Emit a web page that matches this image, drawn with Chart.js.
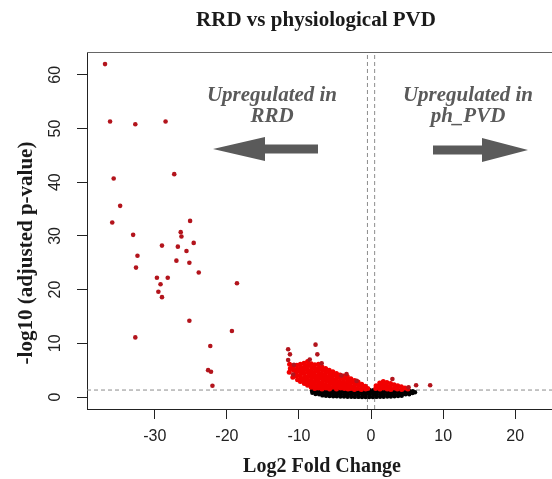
<!DOCTYPE html>
<html>
<head>
<meta charset="utf-8">
<script src="https://cdn.jsdelivr.net/npm/chart.js@4"></script>
<style>
html,body{margin:0;padding:0;background:#fff;overflow:hidden}
#wrap{width:552px;height:479px;position:relative}
</style>
</head>
<body>
<div id="wrap"><canvas id="c"></canvas></div>
<script>
// axis ticks
const xTicks = [-30, -20, -10, 0, 10, 20]
const yTicks = [0, 10, 20, 30, 40, 50, 60]
// cut-offs: |log2FC| 0.5 and padj 0.05
const fcCut = 0.5
const pCut = 1.3

// significant genes, isolated points [log2FC, -log10 padj]
const farRed = [
  [-36.9, 62.0], [-36.2, 51.3], [-32.7, 50.8], [-28.5, 51.3], [-35.7, 40.7], [-27.3, 41.5],
  [-34.8, 35.6], [-35.9, 32.5], [-25.1, 32.8], [-33.0, 30.2], [-26.4, 30.7], [-26.3, 29.9],
  [-29.0, 28.2], [-26.8, 28.0], [-24.6, 28.7], [-32.4, 26.3], [-25.6, 27.2], [-32.6, 24.1],
  [-27.0, 25.4], [-25.2, 25.0], [-23.9, 23.2], [-29.7, 22.2], [-28.2, 22.2], [-29.2, 21.0],
  [-18.6, 21.2], [-29.5, 19.6], [-29.0, 18.6], [-25.2, 14.2], [-19.3, 12.3], [-32.7, 11.1],
  [-22.3, 9.5], [-22.6, 5.0], [-22.2, 4.7], [-22.0, 2.1],
  [-11.5, 8.9], [-11.25, 7.95], [-11.5, 6.9], [-7.7, 9.75], [-7.45, 7.95], [-8.5, 7.0],
  [-6.85, 6.3], [-10.8, 4.2], [-10.7, 6.0], [-4.1, 4.0], [-3.4, 4.3], [-2.0, 3.0],
  [2.96, 3.35], [5.2, 1.8], [6.25, 2.2], [8.2, 2.2]
]

// significant genes, dense part near zero
const redCloud = [
  [-11.3, 6.1], [-11.2, 5.3], [-11.35, 4.6],
  [-10.8, 5.7], [-10.75, 5.0], [-10.85, 3.7],
  [-10.3, 5.9], [-10.25, 5.2], [-10.35, 4.6], [-10.3, 3.9], [-10.2, 3.2],
  [-9.8, 6.1], [-9.75, 5.4], [-9.85, 4.8], [-9.8, 4.1], [-9.7, 3.5], [-9.8, 2.9],
  [-9.3, 6.3], [-9.25, 5.6], [-9.35, 5.0], [-9.3, 4.4], [-9.2, 3.7], [-9.3, 3.1], [-9.25, 2.5],
  [-8.8, 6.6], [-8.75, 5.9], [-8.85, 5.2], [-8.8, 4.6], [-8.7, 3.9], [-8.8, 3.3], [-8.75, 2.7], [-8.8, 2.2],
  [-8.3, 6.2], [-8.25, 5.5], [-8.35, 4.9], [-8.3, 4.3], [-8.2, 3.6], [-8.3, 3.0], [-8.25, 2.4], [-8.3, 1.8],
  [-7.8, 6.0], [-7.75, 5.3], [-7.85, 4.6], [-7.8, 4.0], [-7.7, 3.4], [-7.8, 2.8], [-7.75, 2.2], [-7.8, 1.6],
  [-7.3, 6.1], [-7.25, 5.4], [-7.35, 4.8], [-7.3, 4.1], [-7.2, 3.5], [-7.3, 2.9], [-7.25, 2.3], [-7.3, 1.7],
  [-6.8, 5.6], [-6.75, 5.0], [-6.85, 4.4], [-6.8, 3.8], [-6.7, 3.2], [-6.8, 2.6], [-6.75, 2.0], [-6.8, 1.5],
  [-6.3, 5.3], [-6.25, 4.7], [-6.35, 4.1], [-6.3, 3.5], [-6.2, 2.9], [-6.3, 2.3], [-6.25, 1.7],
  [-5.8, 5.0], [-5.75, 4.4], [-5.85, 3.8], [-5.8, 3.2], [-5.7, 2.6], [-5.8, 2.0], [-5.75, 1.5],
  [-5.3, 4.7], [-5.25, 4.1], [-5.35, 3.5], [-5.3, 2.9], [-5.2, 2.3], [-5.3, 1.8],
  [-4.8, 4.4], [-4.75, 3.8], [-4.85, 3.2], [-4.8, 2.6], [-4.7, 2.0], [-4.8, 1.5],
  [-4.3, 4.1], [-4.25, 3.5], [-4.35, 2.9], [-4.3, 2.3], [-4.2, 1.7],
  [-3.8, 3.9], [-3.75, 3.4], [-3.85, 2.8], [-3.8, 2.2], [-3.7, 1.6],
  [-3.3, 3.8], [-3.25, 3.2], [-3.35, 2.6], [-3.3, 2.0], [-3.2, 1.5],
  [-2.8, 3.4], [-2.75, 2.8], [-2.85, 2.2], [-2.8, 1.6],
  [-2.3, 3.1], [-2.25, 2.5], [-2.35, 1.9], [-2.3, 1.4],
  [-1.8, 2.8], [-1.75, 2.2], [-1.85, 1.6],
  [-1.3, 2.4], [-1.25, 1.9], [-1.35, 1.4],
  [-0.8, 2.0], [-0.75, 1.5], [-0.45, 1.6],
  [0.7, 2.1], [0.65, 1.6],
  [1.2, 2.6], [1.15, 2.0], [1.25, 1.5],
  [1.7, 2.9], [1.65, 2.3], [1.75, 1.7],
  [2.2, 2.7], [2.15, 2.1], [2.25, 1.5],
  [2.7, 2.5], [2.65, 1.9], [2.75, 1.4],
  [3.2, 2.3], [3.25, 1.7],
  [3.7, 2.1], [3.65, 1.5],
  [4.2, 1.9], [4.25, 1.4],
  [4.7, 1.7], [5.1, 1.5]
]

// not significant
const blackCloud = [
  [-8.2, 1.2], [-8.15, 0.8],
  [-7.7, 1.25], [-7.75, 0.9], [-7.7, 0.55],
  [-7.2, 1.2], [-7.25, 0.85], [-7.2, 0.5],
  [-6.7, 1.25], [-6.75, 0.9], [-6.7, 0.55], [-6.75, 0.3],
  [-6.2, 1.2], [-6.25, 0.85], [-6.2, 0.5], [-6.25, 0.25],
  [-5.7, 1.25], [-5.75, 0.9], [-5.7, 0.55], [-5.75, 0.2],
  [-5.2, 1.2], [-5.25, 0.85], [-5.2, 0.5], [-5.25, 0.15],
  [-4.7, 1.25], [-4.75, 0.9], [-4.7, 0.55], [-4.75, 0.15],
  [-4.2, 1.2], [-4.25, 0.85], [-4.2, 0.5], [-4.25, 0.1],
  [-3.7, 1.25], [-3.75, 0.9], [-3.7, 0.5], [-3.75, 0.08],
  [-3.2, 1.2], [-3.25, 0.85], [-3.2, 0.45], [-3.25, 0.05],
  [-2.7, 1.25], [-2.75, 0.9], [-2.7, 0.5], [-2.75, 0.05],
  [-2.2, 1.2], [-2.25, 0.85], [-2.2, 0.45], [-2.25, 0.02],
  [-1.7, 1.25], [-1.75, 0.9], [-1.7, 0.5], [-1.75, 0.02],
  [-1.2, 1.2], [-1.25, 0.85], [-1.2, 0.45], [-1.25, 0.0],
  [-0.7, 1.25], [-0.75, 0.9], [-0.7, 0.5], [-0.75, 0.0],
  [-0.2, 1.3], [-0.25, 0.9], [-0.2, 0.5], [-0.25, 0.0],
  [0.3, 1.25], [0.25, 0.85], [0.3, 0.45], [0.25, 0.0],
  [0.8, 1.2], [0.75, 0.85], [0.8, 0.45], [0.75, 0.02],
  [1.3, 1.25], [1.25, 0.9], [1.3, 0.5], [1.25, 0.05],
  [1.8, 1.2], [1.75, 0.85], [1.8, 0.45], [1.75, 0.05],
  [2.3, 1.25], [2.25, 0.9], [2.3, 0.5], [2.25, 0.08],
  [2.8, 1.2], [2.75, 0.85], [2.8, 0.45], [2.75, 0.1],
  [3.3, 1.25], [3.25, 0.9], [3.3, 0.5], [3.25, 0.15],
  [3.8, 1.2], [3.75, 0.85], [3.8, 0.5], [3.75, 0.2],
  [4.3, 1.2], [4.25, 0.85], [4.3, 0.45], [4.25, 0.25],
  [4.8, 1.2], [4.75, 0.85], [4.8, 0.5],
  [5.3, 1.15], [5.25, 0.8], [5.3, 0.5],
  [5.8, 1.1], [5.75, 0.75], [6.1, 0.9]
]

const xMin = -39.4, xMax = 25.1
const yMin = -2.23, yMax = 64.25

const pts = arr => arr.map(p => ({x: p[0], y: p[1]}))
const serif = '"Liberation Serif", "Times New Roman", serif'

function arrow(ctx, tip, headBase, tail, cy) {
  // tip -> head -> shaft, works both ways
  ctx.beginPath()
  ctx.moveTo(tip, cy)
  ctx.lineTo(headBase, cy - 12)
  ctx.lineTo(headBase, cy - 4.5)
  ctx.lineTo(tail, cy - 4.5)
  ctx.lineTo(tail, cy + 4.5)
  ctx.lineTo(headBase, cy + 4.5)
  ctx.lineTo(headBase, cy + 12)
  ctx.closePath()
  ctx.fill()
}

const deco = {
  id: 'deco',
  afterDraw(chart) {
    const ctx = chart.ctx
    const a = chart.chartArea
    const y = chart.scales.y
    ctx.save()
    // top of frame
    ctx.strokeStyle = '#666'
    ctx.lineWidth = 1
    ctx.beginPath()
    ctx.moveTo(a.left, a.top + 0.5)
    ctx.lineTo(a.right, a.top + 0.5)
    ctx.stroke()

    // y tick labels, turned like R does
    ctx.fillStyle = '#222'
    ctx.font = '16px "Liberation Sans", Arial, sans-serif'
    ctx.textAlign = 'center'
    ctx.textBaseline = 'middle'
    yTicks.forEach(v => {
      ctx.save()
      ctx.translate(56, y.getPixelForValue(v))
      ctx.rotate(-Math.PI / 2)
      ctx.fillText(String(v), 0, 0)
      ctx.restore()
    })

    // titles
    ctx.fillStyle = '#1a1a1a'
    ctx.font = 'bold 21px ' + serif
    ctx.fillText('RRD vs physiological PVD', 316, 21)
    ctx.font = 'bold 20px ' + serif
    ctx.fillText('Log2 Fold Change', 322, 467)
    ctx.save()
    ctx.translate(27, 253)
    ctx.rotate(-Math.PI / 2)
    ctx.font = 'bold 21px ' + serif
    ctx.fillText('-log10 (adjusted p-value)', 0, 0)
    ctx.restore()

    // annotations
    ctx.fillStyle = '#5a5a5a'
    ctx.font = 'italic bold 21px ' + serif
    ctx.fillText('Upregulated in', 272, 96)
    ctx.fillText('RRD', 272, 117)
    ctx.fillText('Upregulated in', 468, 96)
    ctx.fillText('ph_PVD', 468, 117)
    arrow(ctx, 213, 265, 318, 149)
    arrow(ctx, 528, 482, 433, 150)
    ctx.restore()
  }
}

const dash = {type: 'line', borderColor: '#8c8c8c', borderWidth: 1, borderDash: [4, 3],
  pointRadius: 0, fill: false, order: 10}

new Chart(document.getElementById('c'), {
  type: 'scatter',
  data: {
    datasets: [
      Object.assign({data: [{x: xMin, y: pCut}, {x: xMax, y: pCut}]}, dash),
      Object.assign({data: [{x: -fcCut, y: yMin}, {x: -fcCut, y: yMax}]}, dash),
      Object.assign({data: [{x: fcCut, y: yMin}, {x: fcCut, y: yMax}]}, dash),
      {data: pts(blackCloud), backgroundColor: '#000', borderWidth: 0, pointRadius: 2.2, order: 3},
      {data: pts(redCloud), backgroundColor: '#f20000', borderWidth: 0, pointRadius: 2.5, order: 2},
      {data: pts(farRed), backgroundColor: '#b3141c', borderWidth: 0, pointRadius: 2.3, order: 1}
    ]
  },
  options: {
    responsive: true,
    maintainAspectRatio: false,
    devicePixelRatio: 1,
    animation: false,
    layout: {padding: {top: 52, right: 0, bottom: 0, left: 0}, autoPadding: false},
    plugins: {legend: {display: false}, tooltip: {enabled: false}, title: {display: false}},
    scales: {
      x: {
        type: 'linear', min: xMin, max: xMax,
        afterBuildTicks: s => { s.ticks = xTicks.map(v => ({value: v})) },
        afterFit: s => { s.height = 70 },
        grid: {drawOnChartArea: false, drawTicks: true, tickLength: 10, tickColor: '#222'},
        border: {display: true, color: '#222', width: 1},
        ticks: {font: {family: '"Liberation Sans", Arial, sans-serif', size: 16}, color: '#222', padding: 8, maxRotation: 0}
      },
      y: {
        type: 'linear', min: yMin, max: yMax,
        afterBuildTicks: s => { s.ticks = yTicks.map(v => ({value: v})) },
        afterFit: s => { s.width = 87 },
        grid: {drawOnChartArea: false, drawTicks: true, tickLength: 10, tickColor: '#222'},
        border: {display: true, color: '#222', width: 1},
        ticks: {display: false}
      }
    }
  },
  plugins: [deco]
})
</script>
</body>
</html>
